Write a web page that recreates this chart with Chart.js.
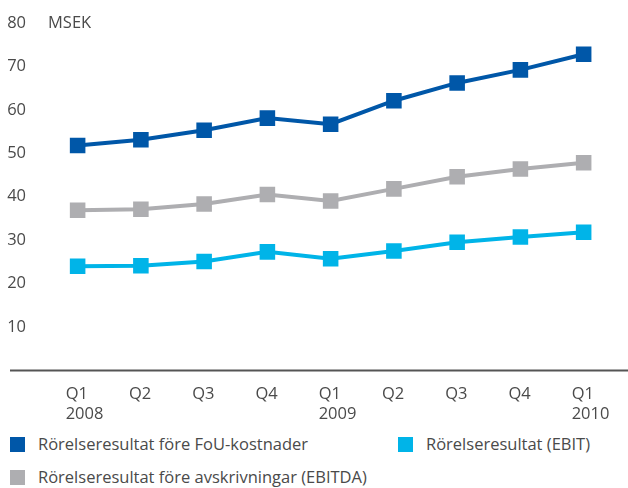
<!DOCTYPE html>
<html>
<head>
<meta charset="utf-8">
<script src="https://cdn.jsdelivr.net/npm/chart.js@4/dist/chart.umd.min.js"></script>
<style>
  body { margin: 0; background: #fff; font-family: "Open Sans", sans-serif; }
  #wrap { position: relative; width: 628px; height: 488px; }
  #chartBox { position: absolute; left: 0; top: 0; width: 628px; height: 430px; }
  .leg { position: absolute; font-size: 16.5px; color: #4a4a4a; white-space: nowrap; line-height: 20px; }
  .leg span.box { display: inline-block; width: 15px; height: 15px; vertical-align: -2px; margin-right: 13px; }
</style>
</head>
<body>
<div id="wrap">
  <div id="chartBox"><canvas id="lineChart"></canvas></div>
  <div id="legend"></div>
</div>
<script>
const quarters = [['Q1', '2008'], 'Q2', 'Q3', 'Q4', ['Q1', '2009'], 'Q2', 'Q3', 'Q4', ['Q1', '2010']];
const foUValues = [51.8, 53.1, 55.3, 58.1, 56.7, 62.1, 66.2, 69.2, 72.8];
const ebitdaValues = [36.9, 37.1, 38.3, 40.5, 39.0, 41.8, 44.6, 46.4, 47.8];
const ebitValues = [24.0, 24.1, 25.1, 27.3, 25.7, 27.5, 29.5, 30.7, 31.8];
const yTicks = [10, 20, 30, 40, 50, 60, 70, 80];

const seriesNames = ['Rörelseresultat före FoU-kostnader', 'Rörelseresultat före avskrivningar (EBITDA)', 'Rörelseresultat (EBIT)'];
const seriesColors = ['#0057a8', '#aeaeb1', '#00b4e8'];

const textColor = '#4a4a4a';
const fontFamily = '"Open Sans", sans-serif';

// baseline across the whole width + MSEK unit text
const extrasPlugin = {
    id: 'extras',
    afterDraw(chart) {
        const ctx = chart.ctx;
        const y0 = chart.scales.y.getPixelForValue(0);
        ctx.save();
        ctx.strokeStyle = '#555';
        ctx.lineWidth = 2;
        ctx.beginPath();
        ctx.moveTo(10, y0);
        ctx.lineTo(628, y0);
        ctx.stroke();
        ctx.fillStyle = textColor;
        ctx.font = '16.5px ' + fontFamily;
        ctx.textBaseline = 'middle';
        ctx.fillText('MSEK', 48, chart.scales.y.getPixelForValue(80));
        ctx.restore();
    }
};

function makeSet(label, data, color) {
    return {
        label: label,
        data: data,
        borderColor: color,
        backgroundColor: color,
        borderWidth: 4,
        pointStyle: 'rect',
        pointRadius: 11,
        pointBorderWidth: 0,
        pointHoverRadius: 11,
        tension: 0
    };
}

new Chart(document.getElementById('lineChart'), {
    type: 'line',
    data: {
        labels: quarters,
        datasets: [
            makeSet(seriesNames[2], ebitValues, seriesColors[2]),
            makeSet(seriesNames[1], ebitdaValues, seriesColors[1]),
            makeSet(seriesNames[0], foUValues, seriesColors[0])
        ]
    },
    options: {
        responsive: true,
        maintainAspectRatio: false,
        animation: false,
        layout: { padding: { top: 23, right: 1, left: 0, bottom: 0 } },
        plugins: { legend: { display: false }, tooltip: { enabled: false } },
        scales: {
            x: {
                offset: true,
                grid: { display: false },
                border: { display: false },
                ticks: {
                    color: textColor,
                    font: { family: fontFamily, size: 16.5 },
                    align: 'start',
                    labelOffset: -12,
                    padding: 6,
                    maxRotation: 0,
                    autoSkip: false
                }
            },
            y: {
                min: 0,
                max: 80,
                grid: { display: false },
                border: { display: false },
                afterFit(scale) { scale.width = 46; },
                afterBuildTicks(scale) { scale.ticks = [0].concat(yTicks).map(v => ({ value: v })); },
                ticks: {
                    color: textColor,
                    font: { family: fontFamily, size: 16.5 },
                    padding: 12,
                    callback: v => (v === 0 ? '' : v)
                }
            }
        }
    },
    plugins: [extrasPlugin]
});

// legend in the reference layout: two columns, EBITDA on a second row
const legendPos = [[10, 434], [10, 467], [398, 434]];
const legendOrder = [0, 1, 2];
const legendEl = document.getElementById('legend');
legendOrder.forEach((i, k) => {
    const d = document.createElement('div');
    d.className = 'leg';
    d.style.left = legendPos[k][0] + 'px';
    d.style.top = legendPos[k][1] + 'px';
    const b = document.createElement('span');
    b.className = 'box';
    b.style.background = seriesColors[i];
    d.appendChild(b);
    d.appendChild(document.createTextNode(seriesNames[i]));
    legendEl.appendChild(d);
});
</script>
</body>
</html>
